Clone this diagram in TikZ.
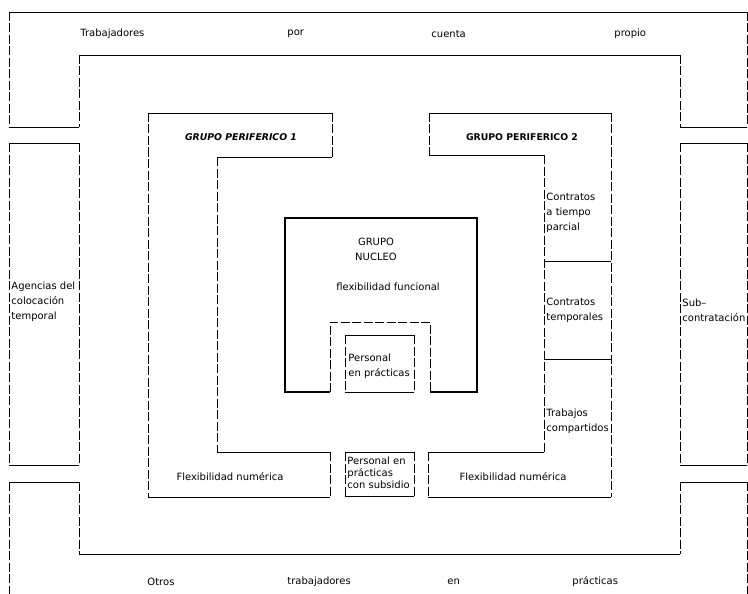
\documentclass[tikz,border=0pt]{standalone}
\usepackage{fontspec}
\setmainfont{DejaVu Sans}
\begin{document}
\begin{tikzpicture}[x=1pt,y=-1pt,line width=0.9pt,
  vl/.style={dash pattern=on 9pt off 2.5pt},
  txt/.style={inner sep=0pt,font=\fontsize{10}{15}\selectfont,align=left},
  small/.style={inner sep=0pt,font=\fontsize{10}{12}\selectfont,align=left},
  head/.style={inner sep=0pt,font=\fontsize{9.3}{12}\selectfont\bfseries},
  core/.style={line width=2.6pt,line join=miter}]
\useasboundingbox (0,0) rectangle (748,594);
\fill[white] (0,0) rectangle (748,594);

% outer ring: top band
\draw (9,12) -- (747,12);
\draw (9,127) -- (79,127);
\draw (79,55) -- (680,55);
\draw (680,127) -- (747,127);
\draw[vl] (9,12) -- (9,127) (79,55) -- (79,127) (680,55) -- (680,127) (747,12) -- (747,127);
% left and right boxes
\draw (9,143) -- (79,143) (9,465) -- (79,465);
\draw[vl] (9,143) -- (9,465) (79,143) -- (79,465);
\draw (680,143) -- (747,143) (680,465) -- (747,465);
\draw[vl] (680,143) -- (680,465) (747,143) -- (747,465);
% bottom band
\draw (9,482) -- (79,482) (79,554) -- (680,554) (680,482) -- (747,482);
\draw[vl] (9,482) -- (9,594) (79,482) -- (79,554) (680,482) -- (680,554) (747,482) -- (747,594);

% grupo periferico 1
\draw (148,113) -- (332,113) (217,157) -- (332,157) (217,452) -- (330,452) (148,497) -- (330,497);
\draw[vl] (148,113) -- (148,497) (332,113) -- (332,157) (217,157) -- (217,452) (330,452) -- (330,497);

% grupo periferico 2
\draw (429,113) -- (611,113) (429,155) -- (544,155) (428,452) -- (544,452) (428,497) -- (611,497)
      (544,261) -- (611,261) (544,359) -- (611,359);
\draw[vl] (429,113) -- (429,155) (611,113) -- (611,497) (544,155) -- (544,452) (428,452) -- (428,497);

% grupo nucleo
\draw[core] (330,392) -- (285,392) -- (285,218) -- (477,218) -- (477,392) -- (430,392);
\draw[vl,line width=0.7pt] (330,392) -- (330,322) -- (430,322) -- (430,392);
\draw (345,335) -- (414,335) (345,392) -- (414,392);
\draw[vl] (345,335) -- (345,392) (414,335) -- (414,392);
% personal en practicas con subsidio
\draw (345,452) -- (414,452) (345,496) -- (414,496);
\draw[vl] (345,452) -- (345,496) (414,452) -- (414,496);

% texts
\node[txt,anchor=west] (t1) at (80,34) {Trabajadores};
\node[txt,anchor=west] (t2) at (287,34) {por};
\node[txt,anchor=west] (t3) at (431,34) {cuenta};
\node[txt,anchor=west] (t4) at (614,34) {propio};
\node[txt,anchor=west] (b1) at (147,582) {Otros};
\node[txt,anchor=west] (b2) at (287,582) {trabajadores};
\node[txt,anchor=west] (b3) at (447,582) {en};
\node[txt,anchor=west] (b4) at (572,582) {prácticas};

\node[head,font=\fontsize{9.3}{12}\selectfont\bfseries\itshape] (gp1) at (241,137) {GRUPO PERIFERICO 1};
\node[head] (gp2) at (522,137) {GRUPO PERIFERICO 2};

\node[txt,anchor=west] (ag) at (11,302) {Agencias del\\colocación\\temporal};
\node[txt,anchor=west] (sub) at (682,310) {Sub–\\contratación};
\node[txt,anchor=west] (c1) at (546,213) {Contratos\\a tiempo\\parcial};
\node[txt,anchor=west] (c2) at (546,310) {Contratos\\temporales};
\node[txt,anchor=west] (c3) at (546,421) {Trabajos\\compartidos};

\node[txt,align=center] (gn) at (376,249) {GRUPO\\NUCLEO};
\node[txt] (ff) at (388,287) {flexibilidad funcional};
\node[txt,anchor=west] (pp) at (348,366) {Personal\\en prácticas};

\node[txt] (fn1) at (230,477) {Flexibilidad numérica};
\node[txt] (fn2) at (513,477) {Flexibilidad numérica};
\node[small,anchor=west] (ps) at (347,473) {Personal en\\prácticas\\con subsidio};
\end{tikzpicture}
\end{document}
